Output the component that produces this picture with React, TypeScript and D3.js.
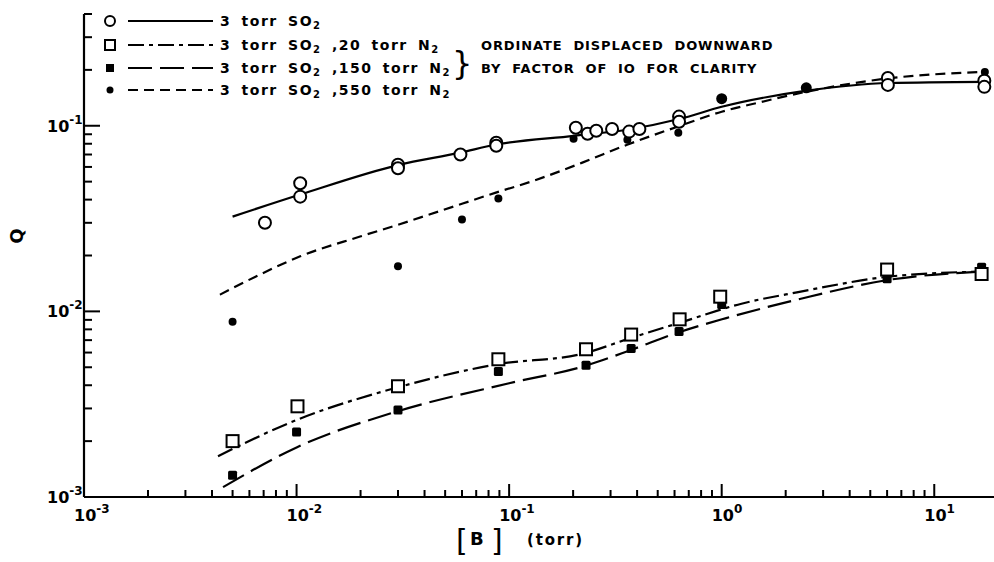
import React from 'react';
import * as d3 from 'd3';

const W = 994;
const H = 562;

// ---- data ----
const openCircleX = [0.0071, 0.0104, 0.0104, 0.030, 0.030, 0.059, 0.087, 0.087, 0.206, 0.234, 0.257, 0.305, 0.367, 0.41, 0.63, 0.63, 6.05, 6.05, 17.2, 17.2];
const openCircleQ = [0.030, 0.049, 0.0415, 0.0616, 0.059, 0.070, 0.081, 0.078, 0.0976, 0.0906, 0.094, 0.096, 0.093, 0.096, 0.112, 0.105, 0.181, 0.166, 0.175, 0.162];

const dot550X = [0.005, 0.03, 0.06, 0.089, 0.201, 0.36, 0.625, 1.0, 2.5, 6.1, 17.3];
const dot550Q = [0.0088, 0.0175, 0.0313, 0.0406, 0.085, 0.084, 0.0917, 0.14, 0.160, 0.1725, 0.195];
const dot550Big = [false, false, false, false, false, false, false, true, true, true, false];

const openSquareX = [0.005, 0.0101, 0.030, 0.089, 0.23, 0.375, 0.634, 0.984, 6.0, 16.7];
const openSquareQ = [0.0020, 0.00308, 0.00395, 0.00552, 0.00625, 0.0075, 0.00906, 0.0120, 0.0168, 0.0159];

const filledSquareX = [0.005, 0.01, 0.03, 0.089, 0.23, 0.375, 0.63, 1.0, 6.0, 16.7];
const filledSquareQ = [0.00131, 0.00224, 0.00294, 0.00475, 0.00513, 0.0063, 0.0078, 0.0109, 0.0150, 0.0173];

const solidCurveX = [0.005, 0.0104, 0.0303, 0.0588, 0.0859, 0.202, 0.359, 0.638, 1.0, 2.47, 6.14, 17.3];
const solidCurveQ = [0.0324, 0.0426, 0.0616, 0.0716, 0.079, 0.0883, 0.0952, 0.109, 0.1265, 0.154, 0.170, 0.1725];

const dashCurveX = [0.00436, 0.00673, 0.0104, 0.0199, 0.0303, 0.06, 0.0859, 0.13, 0.221, 0.359, 0.614, 1.0, 1.52, 2.47, 4.23, 6.34, 17.3];
const dashCurveQ = [0.0123, 0.0158, 0.0198, 0.0253, 0.0294, 0.038, 0.0435, 0.0505, 0.0633, 0.079, 0.0985, 0.119, 0.134, 0.152, 0.170, 0.181, 0.195];

const dashDotCurveX = [0.00427, 0.01, 0.03, 0.089, 0.22, 0.375, 0.638, 1.24, 2.29, 6.14, 17.0];
const dashDotCurveQ = [0.00166, 0.0026, 0.0039, 0.0052, 0.0059, 0.0072, 0.0087, 0.0110, 0.0127, 0.0154, 0.0164];

const longDashCurveX = [0.00451, 0.01, 0.03, 0.1, 0.23, 0.375, 0.624, 1.05, 2.29, 6.14, 17.0];
const longDashCurveQ = [0.00113, 0.00185, 0.0029, 0.0041, 0.0051, 0.0062, 0.0077, 0.0092, 0.0116, 0.0148, 0.0164];

const xTickLabels = [
  { v: 1e-3, exp: '-3' },
  { v: 1e-2, exp: '-2' },
  { v: 1e-1, exp: '-1' },
  { v: 1, exp: '0' },
  { v: 10, exp: '1' },
];
const yTickLabels = [
  { v: 1e-1, exp: '-1' },
  { v: 1e-2, exp: '-2' },
  { v: 1e-3, exp: '-3' },
];

const legendLabels = [
  { main: '3 torr SO', sub: '2', rest: '', sub2: '' },
  { main: '3 torr SO', sub: '2', rest: ' ,20 torr N', sub2: '2' },
  { main: '3 torr SO', sub: '2', rest: ' ,150 torr N', sub2: '2' },
  { main: '3 torr SO', sub: '2', rest: ' ,550 torr N', sub2: '2' },
];
const noteLines = ['ORDINATE  DISPLACED  DOWNWARD', 'BY  FACTOR  OF  IO  FOR  CLARITY'];

// ---- styling ----
const FONT = "'DejaVu Sans', 'Liberation Sans', sans-serif";
const DASH_550 = '10 6';
const DASH_20 = '16 5 4 5';
const DASH_150 = '24 8';

export default function App() {
  const x = d3.scaleLog().domain([1e-3, 19.1]).range([84, 994]);
  const y = d3.scaleLog().domain([1e-3, 0.4]).range([497, 14]);

  const line = d3
    .line<[number, number]>()
    .x((d) => x(d[0]))
    .y((d) => y(d[1]))
    .curve(d3.curveMonotoneX);

  const zip = (a: number[], b: number[]) => a.map((v, i) => [v, b[i]] as [number, number]);

  const xTicks = x.ticks().filter((t) => t <= 19.1);
  const yTicks = y.ticks();
  const isMajor = (t: number) => Math.abs(Math.log10(t) - Math.round(Math.log10(t))) < 1e-6;

  const legendY = [21, 45, 68, 90];

  return (
    <svg width={W} height={H} style={{ position: 'absolute', left: 0, top: 0, background: '#fff' }} fontFamily={FONT}>
      <rect x={0} y={0} width={W} height={H} fill="#fff" />
      {/* axes */}
      <line x1={x(1e-3)} y1={y(0.4)} x2={x(1e-3)} y2={y(1e-3)} stroke="#000" strokeWidth={2.2} />
      <line x1={x(1e-3)} y1={y(1e-3)} x2={994} y2={y(1e-3)} stroke="#000" strokeWidth={2.2} />
      {yTicks.map((t, i) => (
        <line key={'yt' + i} x1={x(1e-3)} x2={x(1e-3) + (isMajor(t) ? 16 : 8)} y1={y(t)} y2={y(t)} stroke="#000" strokeWidth={2} />
      ))}
      {xTicks.map((t, i) => (
        <line key={'xt' + i} x1={x(t)} x2={x(t)} y1={y(1e-3)} y2={y(1e-3) - (isMajor(t) ? 13 : 7)} stroke="#000" strokeWidth={2} />
      ))}
      {/* tick labels */}
      {yTickLabels.map((d, i) => (
        <text key={'yl' + i} x={47} y={y(d.v) + 6} fontSize={16} fontWeight="bold" fill="#000">
          10<tspan fontSize={12} dy={-8}>{d.exp}</tspan>
        </text>
      ))}
      {xTickLabels.map((d, i) => (
        <text key={'xl' + i} x={x(d.v) - 10} y={521} fontSize={16} fontWeight="bold" fill="#000">
          10<tspan fontSize={12} dy={-8}>{d.exp}</tspan>
        </text>
      ))}
      {/* axis titles */}
      <text x={18} y={236} fontSize={18} fontWeight="bold" textAnchor="middle" transform="rotate(-90 18 236)" dominantBaseline="middle">Q</text>
      <text x={456} y={551} fontSize={30} fontWeight="normal">[</text>
      <text x={470} y={545} fontSize={18} fontWeight="bold">B</text>
      <text x={491} y={551} fontSize={30} fontWeight="normal">]</text>
      <text x={527} y={545} fontSize={15} fontWeight="bold" letterSpacing={1.8}>(torr)</text>

      {/* curves */}
      <path d={line(zip(solidCurveX, solidCurveQ)) || ''} fill="none" stroke="#000" strokeWidth={2.2} />
      <path d={line(zip(dashCurveX, dashCurveQ)) || ''} fill="none" stroke="#000" strokeWidth={2.2} strokeDasharray={DASH_550} />
      <path d={line(zip(dashDotCurveX, dashDotCurveQ)) || ''} fill="none" stroke="#000" strokeWidth={2.2} strokeDasharray={DASH_20} />
      <path d={line(zip(longDashCurveX, longDashCurveQ)) || ''} fill="none" stroke="#000" strokeWidth={2.2} strokeDasharray={DASH_150} />

      {/* markers */}
      {dot550X.map((v, i) => (
        <circle key={'d' + i} cx={x(v)} cy={y(dot550Q[i])} r={dot550Big[i] ? 5.5 : 4} fill="#000" />
      ))}
      {filledSquareX.map((v, i) => (
        <rect key={'fs' + i} x={x(v) - 4.5} y={y(filledSquareQ[i]) - 4.5} width={9} height={9} rx={1.5} fill="#000" />
      ))}
      {openSquareX.map((v, i) => (
        <rect key={'os' + i} x={x(v) - 6} y={y(openSquareQ[i]) - 6} width={12} height={12} fill="#fff" stroke="#000" strokeWidth={2} />
      ))}
      {openCircleX.map((v, i) => (
        <circle key={'oc' + i} cx={x(v)} cy={y(openCircleQ[i])} r={6} fill="#fff" stroke="#000" strokeWidth={2} />
      ))}

      {/* legend */}
      <circle cx={110} cy={legendY[0]} r={5} fill="#fff" stroke="#000" strokeWidth={2} />
      <rect x={105} y={legendY[1] - 5} width={10} height={10} fill="#fff" stroke="#000" strokeWidth={2} />
      <rect x={106} y={legendY[2] - 4} width={8} height={8} fill="#000" />
      <circle cx={110} cy={legendY[3]} r={3.5} fill="#000" />
      <line x1={128} x2={213} y1={legendY[0]} y2={legendY[0]} stroke="#000" strokeWidth={2} />
      <line x1={128} x2={213} y1={legendY[1]} y2={legendY[1]} stroke="#000" strokeWidth={2} strokeDasharray={DASH_20} />
      <line x1={128} x2={213} y1={legendY[2]} y2={legendY[2]} stroke="#000" strokeWidth={2} strokeDasharray={DASH_150} />
      <line x1={128} x2={213} y1={legendY[3]} y2={legendY[3]} stroke="#000" strokeWidth={2} strokeDasharray={DASH_550} />
      {legendLabels.map((d, i) => (
        <text key={'lg' + i} x={220} y={legendY[i] + 5} fontSize={14} fontWeight="bold" letterSpacing={1.5} wordSpacing={4} fill="#000">
          {d.main}
          <tspan fontSize={10} dy={3}>{d.sub}</tspan>
          <tspan dy={-3}>{d.rest}</tspan>
          {d.sub2 ? <tspan fontSize={10} dy={3}>{d.sub2}</tspan> : null}
        </text>
      ))}
      <text x={452} y={legendY[2] + 6} fontSize={32} fontWeight="normal">
        {'}'}
      </text>
      {noteLines.map((t, i) => (
        <text key={'n' + i} x={481} y={legendY[1 + i] + 5} fontSize={13} fontWeight="bold" letterSpacing={0.9} fill="#000" style={{ whiteSpace: 'pre' }}>
          {t}
        </text>
      ))}
    </svg>
  );
}
